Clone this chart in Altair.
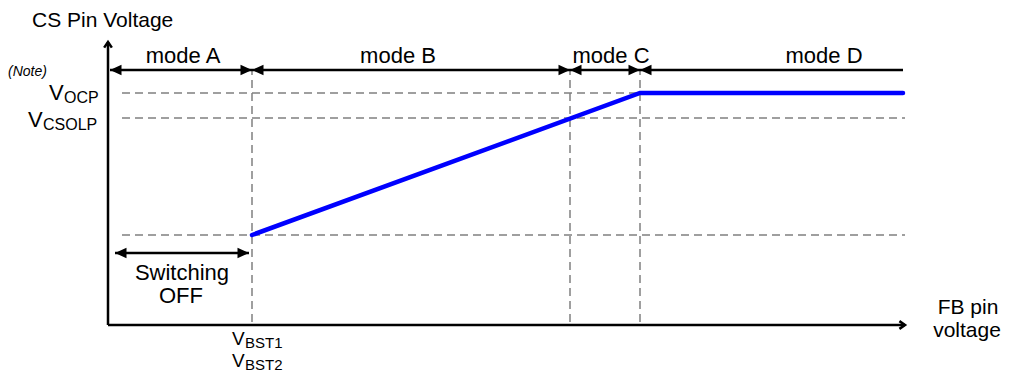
import altair as alt
import pandas as pd

# ---- diagram values (diagram units: FB-pin voltage on x, CS-pin voltage on y) ----
FB_AXIS_END = 797          # end of the FB pin voltage axis
CS_AXIS_END = 283          # end of the CS pin voltage axis
FB_BST = 144               # V_BST1 / V_BST2
FB_MODE_C = 462            # mode B -> mode C boundary
FB_OCP = 532               # mode C -> mode D boundary
FB_END = 795               # end of curve / mode D line

CS_LOW = 90                # CS voltage at V_BST
CS_CSOLP = 207             # V_CSOLP
CS_OCP = 232               # V_OCP
CS_MODE_LINE = 255         # level of the mode arrows
CS_SWITCH_LINE = 72        # level of the "Switching OFF" arrow

mode_names = ["mode A", "mode B", "mode C", "mode D"]
mode_starts = [2, FB_BST, FB_MODE_C, FB_OCP]
mode_ends = [FB_BST, FB_MODE_C, FB_OCP, FB_END]
mode_label_x = [75, 290, 503, 716]

curve_x = [FB_BST, FB_OCP, FB_END]
curve_y = [CS_LOW, CS_OCP, CS_OCP]

switch_start = 7
switch_end = 141

dash_left = 14

xs = alt.Scale(domain=[-100, 896], nice=False, zero=False)
ys = alt.Scale(domain=[-48, 317], nice=False, zero=False)


def X(f="x"):
    return alt.X(f"{f}:Q", scale=xs, axis=None)


def Y(f="y"):
    return alt.Y(f"{f}:Q", scale=ys, axis=None)


# ---- solid black lines: axes, mode line, switching arrow ----
solid = pd.DataFrame({
    "x": [0, 0, 2, switch_start],
    "x2": [0, FB_AXIS_END, FB_END, switch_end],
    "y": [0, 0, CS_MODE_LINE, CS_SWITCH_LINE],
    "y2": [CS_AXIS_END, 0, CS_MODE_LINE, CS_SWITCH_LINE],
})
solid_layer = alt.Chart(solid).mark_rule(color="black", strokeWidth=2.5).encode(
    x=X(), x2="x2:Q", y=Y(), y2="y2:Q")

# ---- dashed grey guides ----
dashed = pd.DataFrame({
    "x": [dash_left, dash_left, dash_left, FB_BST, FB_MODE_C, FB_OCP],
    "x2": [FB_OCP, FB_AXIS_END, FB_AXIS_END, FB_BST, FB_MODE_C, FB_OCP],
    "y": [CS_OCP, CS_CSOLP, CS_LOW, 3, 3, 3],
    "y2": [CS_OCP, CS_CSOLP, CS_LOW, CS_MODE_LINE, CS_MODE_LINE, CS_MODE_LINE],
})
dashed_layer = alt.Chart(dashed).mark_rule(
    color="#808080", strokeWidth=1.5, strokeDash=[8, 5]).encode(
    x=X(), x2="x2:Q", y=Y(), y2="y2:Q")

# ---- blue characteristic ----
curve = pd.DataFrame({"x": curve_x, "y": curve_y, "o": [0, 1, 2]})
curve_layer = alt.Chart(curve).mark_line(
    color="#0000FF", strokeWidth=4.5, strokeCap="round").encode(
    x=X(), y=Y(), order="o:O")

# ---- filled arrowheads ----
left_tips = pd.DataFrame({
    "x": mode_starts + [switch_start],
    "y": [CS_MODE_LINE] * 4 + [CS_SWITCH_LINE],
})
right_tips = pd.DataFrame({
    "x": mode_ends[:3] + [switch_end],
    "y": [CS_MODE_LINE] * 3 + [CS_SWITCH_LINE],
})
left_head = alt.Chart(left_tips).mark_point(
    shape="M0,0 L1,-0.45 L1,0.45 Z", filled=True, size=530, color="black",
    opacity=1, strokeWidth=0).encode(x=X(), y=Y())
right_head = alt.Chart(right_tips).mark_point(
    shape="M0,0 L-1,-0.45 L-1,0.45 Z", filled=True, size=530, color="black",
    opacity=1, strokeWidth=0).encode(x=X(), y=Y())

# ---- open axis arrows ----
up_tip = pd.DataFrame({"x": [0], "y": [CS_AXIS_END]})
right_tip = pd.DataFrame({"x": [FB_AXIS_END], "y": [0]})
up_arrow = alt.Chart(up_tip).mark_point(
    shape="M-0.55,0.8 L0,0 L0.55,0.8", filled=False, size=196, color="black",
    opacity=1, strokeWidth=2.5).encode(x=X(), y=Y())
right_arrow = alt.Chart(right_tip).mark_point(
    shape="M-0.8,-0.55 L0,0 L-0.8,0.55", filled=False, size=196, color="black",
    opacity=1, strokeWidth=2.5).encode(x=X(), y=Y())

FONT = "Liberation Sans"

# ---- centred labels ----
center_text = ["mode A", "mode B", "mode C", "mode D",
               "Switching", "OFF", "FB pin", "voltage"]
center_x = mode_label_x + [74, 73, 860, 859]
center_y = [262, 262, 262, 262, 45, 22, 11, -12]
center_s = [22, 22, 22, 22, 22, 22, 21, 21]
center_df = pd.DataFrame({"t": center_text, "x": center_x, "y": center_y,
                          "s": center_s})
center_layer = alt.Chart(center_df).mark_text(
    align="center", baseline="alphabetic", font=FONT,
    color="black").encode(x=X(), y=Y(), text="t:N",
                          size=alt.Size("s:Q", scale=None))

# ---- left-aligned labels (title, V with subscripts) ----
left_text = ["CS Pin Voltage", "V", "OCP", "V", "CSOLP",
             "V", "BST1", "V", "BST2"]
left_x = [-76, -59, -44, -80, -65, 124, 137, 124, 137]
left_y = [298, 225, 222, 198, 195, -20, -23, -42, -45]
left_size = [21, 22, 16, 22, 16, 19, 15, 19, 15]
left_df = pd.DataFrame({"t": left_text, "x": left_x, "y": left_y, "s": left_size})
left_layer = alt.Chart(left_df).mark_text(
    align="left", baseline="alphabetic", font=FONT, color="black").encode(
    x=X(), y=Y(), text="t:N", size=alt.Size("s:Q", scale=None))

note_df = pd.DataFrame({"t": ["(Note)"], "x": [-100], "y": [249]})
note_layer = alt.Chart(note_df).mark_text(
    align="left", baseline="alphabetic", font=FONT, fontSize=14,
    fontStyle="italic", color="black").encode(x=X(), y=Y(), text="t:N")

chart = alt.layer(
    dashed_layer, solid_layer, curve_layer, left_head, right_head,
    up_arrow, right_arrow, center_layer, left_layer, note_layer,
).properties(
    width=996, height=365, padding=0,
    autosize=alt.AutoSizeParams(type="none"),
    background="white",
).configure_view(stroke=None)

chart.save("out.html", embed_options={"renderer": "svg", "actions": False})
